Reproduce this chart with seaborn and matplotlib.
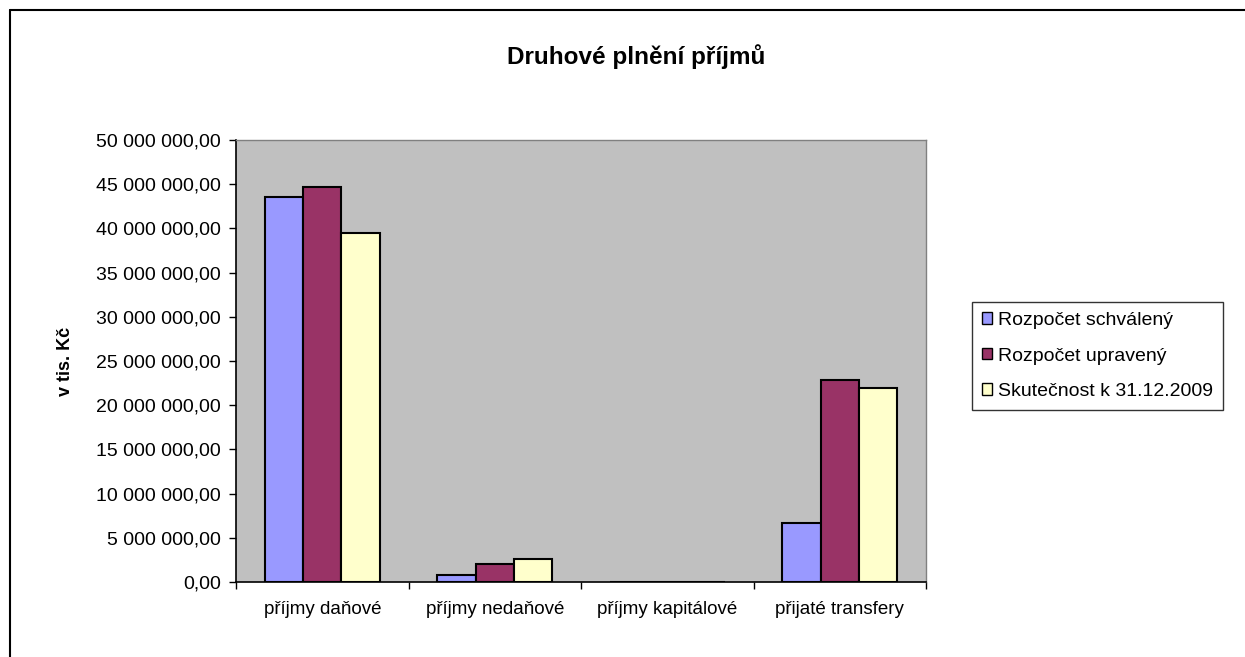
import pandas as pd
import seaborn as sns
import matplotlib.pyplot as plt
from matplotlib.lines import Line2D
from matplotlib.ticker import FuncFormatter, FixedLocator

categories = ['příjmy daňové', 'příjmy nedaňové', 'příjmy kapitálové', 'přijaté transfery']
series = ['Rozpočet schválený', 'Rozpočet upravený', 'Skutečnost k 31.12.2009']
schvaleny = [43550000, 830000, 0, 6670000]
upraveny = [44700000, 2040000, 0, 22900000]
skutecnost = [39450000, 2640000, 0, 21950000]
colors = ['#9999FF', '#993366', '#FFFFCC']

rows = []
for name, vals in zip(series, [schvaleny, upraveny, skutecnost]):
    for cat, v in zip(categories, vals):
        rows.append({'kategorie': cat, 'serie': name, 'hodnota': v})
df = pd.DataFrame(rows)

sns.set_style('white')
plt.rcParams['font.family'] = ['Liberation Sans', 'DejaVu Sans']

fig = plt.figure(figsize=(12.45, 6.57), dpi=100)
ax = fig.add_axes([236 / 1245, 75 / 657, 690 / 1245, 442 / 657])
ax.set_facecolor('#C0C0C0')

sns.barplot(data=df, x='kategorie', y='hodnota', hue='serie', palette=colors, saturation=1,
            width=0.667, edgecolor='black', linewidth=1.5, ax=ax, legend=False)

ax.set_xlim(-0.5, 3.5)
ax.set_ylim(0, 50000000)
ax.set_yticks(range(0, 50000001, 5000000))
ax.yaxis.set_major_formatter(FuncFormatter(
    lambda v, p: f'{v:,.2f}'.replace(',', ' ').replace('.', ',')))
ax.xaxis.set_minor_locator(FixedLocator([-0.5, 0.5, 1.5, 2.5, 3.5]))
ax.tick_params(axis='x', which='major', length=0, labelsize=13.5, pad=14, colors='black')
ax.tick_params(axis='x', which='minor', length=5, width=1, color='black', direction='out', bottom=True)
ax.tick_params(axis='y', length=5, width=1, color='black', labelsize=14, labelcolor='black',
               direction='out', left=True, pad=6)
ax.set_xlabel('')
ax.set_ylabel('v tis. Kč', fontsize=13, fontweight='bold', labelpad=16, color='black')

for side in ['left', 'bottom']:
    ax.spines[side].set_color('black')
    ax.spines[side].set_linewidth(1.2)
for side in ['top', 'right']:
    ax.spines[side].set_color('#808080')
    ax.spines[side].set_linewidth(1)

fig.text(636 / 1245, 1 - 57 / 657, 'Druhové plnění příjmů', ha='center', va='center',
         fontsize=17.5, fontweight='bold', color='black')

handles = [plt.Rectangle((0, 0), 1, 1, facecolor=c, edgecolor='black', linewidth=1) for c in colors]
leg = fig.legend(handles, series, loc='center left', bbox_to_anchor=(972 / 1245, 1 - 356 / 657),
                 fontsize=14, frameon=True, fancybox=False, edgecolor='black',
                 handlelength=0.55, handleheight=0.55, handletextpad=0.3, labelspacing=0.95,
                 borderpad=0.5, borderaxespad=0)
leg.get_frame().set_linewidth(1)
for t in leg.get_texts():
    t.set_color('black')

fig.add_artist(Line2D([10 / 1245, 10 / 1245], [0, 1 - 10 / 657], color='black', linewidth=1.5))
fig.add_artist(Line2D([10 / 1245, 1], [1 - 10 / 657, 1 - 10 / 657], color='black', linewidth=1.5))

fig.savefig('out.png', dpi=100)
